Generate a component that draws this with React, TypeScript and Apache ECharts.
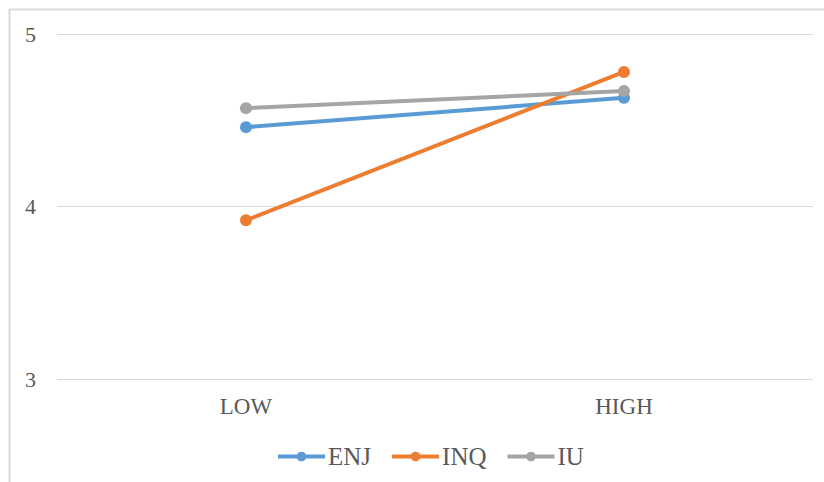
import React, { useEffect, useRef } from "react";
import * as echarts from "echarts";

const categories = ["LOW", "HIGH"];
const enj = [4.46, 4.63];
const inq = [3.92, 4.78];
const iu = [4.57, 4.67];
const seriesNames = ["ENJ", "INQ", "IU"];
const colors = ["#5b9bd5", "#ed7d31", "#a5a5a5"];

export default function App() {
  const ref = useRef<HTMLDivElement>(null);
  useEffect(() => {
    const chart = echarts.init(ref.current!, null, { renderer: "svg" });
    const font = "Liberation Serif";
    const data = [enj, inq, iu];
    chart.setOption({
      animation: false,
      backgroundColor: "#ffffff",
      textStyle: { fontFamily: font },
      graphic: [
        {
          type: "rect",
          shape: { x: 9.5, y: 9.5, width: 900, height: 600 },
          style: { fill: "none", stroke: "#d9d9d9", lineWidth: 2 },
          silent: true,
        },
      ],
      grid: { left: 57, right: 11, top: 34, bottom: 103 },
      legend: {
        top: 444,
        left: 276,
        padding: 0,
        itemWidth: 47,
        itemHeight: 12,
        itemGap: 19,
        data: seriesNames,
        lineStyle: { width: 4 },
        textStyle: { fontFamily: font, fontSize: 25, color: "#595959", padding: [0, 0, 0, -2] },
      },
      xAxis: {
        type: "category",
        data: categories,
        boundaryGap: true,
        axisLine: { show: false },
        axisTick: { show: false },
        axisLabel: { fontFamily: font, fontSize: 23, color: "#595959", margin: 16 },
      },
      yAxis: {
        type: "value",
        min: 3,
        max: 5,
        interval: 1,
        axisLine: { show: false },
        axisTick: { show: false },
        splitLine: { lineStyle: { color: "#d9d9d9", width: 1 } },
        axisLabel: { fontFamily: font, fontSize: 22, color: "#595959", margin: 21 },
      },
      series: seriesNames.map((n, i) => ({
        name: n,
        type: "line",
        data: data[i],
        symbol: "circle",
        symbolSize: 12,
        color: colors[i],
        lineStyle: { width: 4, color: colors[i] },
        itemStyle: { color: colors[i] },
      })),
    });
    return () => chart.dispose();
  }, []);
  return (
    <div
      ref={ref}
      style={{ position: "absolute", left: 0, top: 0, width: 824, height: 482 }}
    />
  );
}
